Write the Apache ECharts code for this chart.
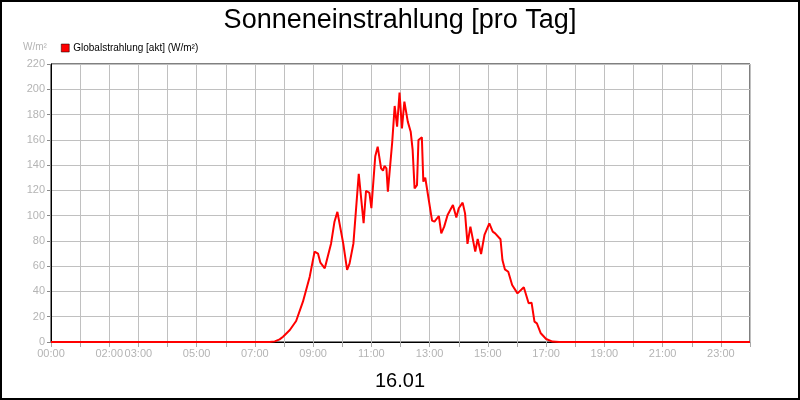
<!DOCTYPE html>
<html>
<head>
<meta charset="utf-8">
<script src="https://cdn.jsdelivr.net/npm/echarts@6/dist/echarts.min.js"></script>
<style>
html,body{margin:0;padding:0;background:#fff;}
#chart{width:800px;height:400px;}
</style>
</head>
<body>
<div id="chart"></div>
<script>
const titleText = "Sonneneinstrahlung [pro Tag]";
const dateText = "16.01";
const seriesName = "Globalstrahlung [akt] (W/m²)";
const unitText = "W/m²";
const xTickLabels = ["00:00","02:00","03:00","05:00","07:00","09:00","11:00","13:00","15:00","17:00","19:00","21:00","23:00"];
const times = ["00:00","07:30","07:41","07:51","07:58","08:12","08:25","08:39","08:53","09:03","09:10","09:15","09:24","09:37","09:44","09:50","09:54","10:02","10:10","10:15","10:23","10:34","10:44","10:49","10:56","11:00","11:08","11:13","11:17","11:20","11:24","11:27","11:31","11:34","11:43","11:48","11:53","11:58","12:03","12:08","12:15","12:21","12:25","12:29","12:34","12:37","12:44","12:47","12:51","12:55","13:05","13:10","13:19","13:24","13:30","13:37","13:48","13:55","14:00","14:08","14:13","14:18","14:24","14:34","14:39","14:46","14:53","15:03","15:10","15:15","15:26","15:30","15:35","15:42","15:50","16:01","16:14","16:24","16:30","16:36","16:41","16:49","17:00","17:13","17:27","24:00"];
const values = [0,0,0.5,2.1,4.2,9.5,16.6,31.9,51.7,71.5,70,62.8,58.3,78,95.2,103,103,78,57,62,78,133,94,119.7,118,106,147,154.6,154,137.4,135.6,139.3,137.4,119,158.5,186.8,170.4,197.3,169.1,190.2,174.4,166.4,152,121.6,124.2,159.9,162,126.9,130,130,96,95.2,99.7,86,91.3,100.5,108.4,98.6,105.8,110.3,101.8,77.6,91.3,71.5,81.5,69.6,84.7,93.9,87.3,86,81.3,64.9,57.5,55.6,45.1,38.5,43.3,30.6,31.1,16.1,14.8,6.9,2.4,0.3,0,0];

function toMin(s){const p=s.split(':');return (+p[0])*60+(+p[1]);}
function toLabel(m){const h=Math.floor(m/60),mi=m%60;return (h<10?'0':'')+h+':'+(mi<10?'0':'')+mi;}
const data = times.map((t,i)=>[toMin(t),values[i]]);

const chart = echarts.init(document.getElementById('chart'));
const font = '"Liberation Sans", Arial, sans-serif';
chart.setOption({
  animation:false,
  backgroundColor:'#fff',
  textStyle:{fontFamily:font},
  title:[
    {text:titleText,left:'center',top:2,textStyle:{fontFamily:font,fontSize:27,fontWeight:'normal',color:'#000'}},
    {text:dateText,left:'center',top:366,textStyle:{fontFamily:font,fontSize:20,fontWeight:'normal',color:'#000'}}
  ],
  legend:{
    left:56,top:38,icon:'rect',itemWidth:8,itemHeight:8,itemGap:4,
    textStyle:{fontFamily:font,fontSize:10,color:'#000',padding:[0,0,0,-1]},
    data:[{name:seriesName,itemStyle:{color:'#ff0000',borderColor:'#000',borderWidth:0.5}}]
  },
  graphic:[
    {type:'rect',shape:{x:1,y:1,width:798,height:398},style:{fill:'none',stroke:'#000',lineWidth:2},silent:true},
    {type:'text',left:23,top:42,style:{text:unitText,fontFamily:font,fontSize:10,fill:'#b4b4b4'}}
  ],
  grid:{left:51,right:50,top:64,bottom:58,show:true,borderColor:'#000',borderWidth:1,backgroundColor:'transparent'},
  xAxis:{
    type:'value',min:0,max:1440,interval:60,
    axisLine:{lineStyle:{color:'#000',width:1}},
    axisTick:{show:true,length:5,lineStyle:{color:'#aaa'}},
    axisLabel:{color:'#b4b4b4',fontSize:11,fontFamily:font,margin:6,
      formatter:function(v){const l=toLabel(v);return xTickLabels.indexOf(l)>=0?l:'';}},
    splitLine:{show:true,lineStyle:{color:'#c0c0c0',width:1}}
  },
  yAxis:{
    type:'value',min:0,max:220,interval:20,
    axisLine:{show:true,lineStyle:{color:'#000',width:1}},
    axisTick:{show:true,length:4,lineStyle:{color:'#888'}},
    axisLabel:{color:'#b4b4b4',fontSize:11,fontFamily:font,margin:6},
    splitLine:{show:true,lineStyle:{color:'#c0c0c0',width:1}}
  },
  series:[{
    name:seriesName,type:'line',data:data,showSymbol:false,symbol:'none',
    lineStyle:{color:'#ff0000',width:2},itemStyle:{color:'#ff0000'}
  }]
});
</script>
</body>
</html>
